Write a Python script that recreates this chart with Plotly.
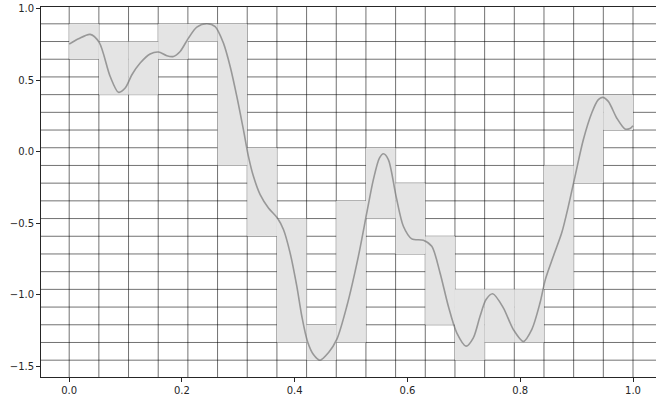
import numpy as np
import plotly.graph_objects as go

# Smooth signal sampled along x in [0, 1]
curve_x = [0.000, 0.0165, 0.0372, 0.0532, 0.0727, 0.0874, 0.0993, 0.1112, 0.1259,
           0.1436, 0.1583, 0.1732, 0.1849, 0.1968, 0.2115, 0.2264, 0.2441, 0.2589,
           0.2736, 0.2855, 0.2973, 0.3090, 0.3179, 0.3268, 0.3387, 0.3534, 0.3693,
           0.3800, 0.3918, 0.4037, 0.4126, 0.4225, 0.4332, 0.4450, 0.4598, 0.4746,
           0.4924, 0.5129, 0.5278, 0.5395, 0.5502, 0.5573, 0.5661, 0.5798, 0.5927,
           0.6076, 0.6282, 0.6431, 0.6578, 0.6725, 0.6874, 0.7039, 0.7168, 0.7287,
           0.7394, 0.7512, 0.7700, 0.7878, 0.8055, 0.8204, 0.8351, 0.8445, 0.8587,
           0.8736, 0.8853, 0.8972, 0.9119, 0.9268, 0.9385, 0.9463, 0.9562, 0.9711,
           0.9858, 0.9947, 1.000]
curve_y = [0.753, 0.790, 0.821, 0.765, 0.527, 0.416, 0.446, 0.539, 0.621,
           0.684, 0.698, 0.672, 0.667, 0.702, 0.795, 0.872, 0.895, 0.876,
           0.760, 0.597, 0.388, 0.155, -0.031, -0.171, -0.299, -0.392, -0.462,
           -0.543, -0.706, -0.939, -1.149, -1.323, -1.416, -1.456, -1.404, -1.311,
           -1.079, -0.730, -0.427, -0.194, -0.043, -0.013, -0.054, -0.311, -0.520,
           -0.608, -0.618, -0.660, -0.846, -1.079, -1.265, -1.358, -1.300, -1.149,
           -1.032, -0.992, -1.090, -1.242, -1.325, -1.242, -1.055, -0.893, -0.730,
           -0.566, -0.381, -0.171, 0.085, 0.272, 0.365, 0.381, 0.353, 0.237,
           0.160, 0.164, 0.183]

# Cells hit by the signal in each column: grid-row span [lo, hi]
band_lo = [17, 15, 15, 17, 18, 11, 7, 1, 0, 1, 8, 6, 2, 0, 1, 1, 4, 10, 13]
band_hi = [19, 18, 18, 19, 19, 19, 12, 8, 2, 9, 12, 10, 7, 4, 4, 4, 11, 15, 15]

x_ticks = [0.0, 0.2, 0.4, 0.6, 0.8, 1.0]
x_labels = ["0.0", "0.2", "0.4", "0.6", "0.8", "1.0"]
y_ticks = [-1.5, -1.0, -0.5, 0.0, 0.5, 1.0]
y_labels = ["\u22121.5", "\u22121.0", "\u22120.5", "0.0", "0.5", "1.0"]

n_lines = 20
y_min, y_max = min(curve_y), max(curve_y)
grid_x = np.linspace(min(curve_x), max(curve_x), n_lines)
grid_y = np.linspace(y_min, y_max, n_lines)

shapes = []
# shaded cells
for i, (lo, hi) in enumerate(zip(band_lo, band_hi)):
    shapes.append(dict(type="rect", xref="x", yref="y", layer="below",
                       x0=grid_x[i], x1=grid_x[i + 1], y0=grid_y[lo], y1=grid_y[hi],
                       fillcolor="#e4e4e4", line=dict(width=0)))
# grid lines spanning the whole axes
grid_line = dict(color="rgba(0,0,0,0.7)", width=0.8)
for gx in grid_x:
    shapes.append(dict(type="line", xref="x", yref="paper", layer="below",
                       x0=gx, x1=gx, y0=0, y1=1, line=grid_line))
for gy in grid_y:
    shapes.append(dict(type="line", xref="paper", yref="y", layer="below",
                       x0=0, x1=1, y0=gy, y1=gy, line=grid_line))

fig = go.Figure()
fig.add_trace(go.Scatter(x=curve_x, y=curve_y, mode="lines",
                         line=dict(color="rgba(90,90,90,0.55)", width=1.6,
                                   shape="spline", smoothing=0.8),
                         hoverinfo="skip", showlegend=False))

pad_x = 0.05 * (max(curve_x) - min(curve_x))
pad_y = 0.05 * (y_max - y_min)

fig.update_layout(
    width=656, height=399,
    margin=dict(l=41, r=0, t=7, b=22),
    paper_bgcolor="white", plot_bgcolor="white",
    font=dict(family="DejaVu Sans", size=10, color="#262626"),
    shapes=shapes,
    showlegend=False,
)
fig.update_xaxes(range=[-pad_x, 1.0408], tickvals=x_ticks, ticktext=x_labels,
                 showgrid=False, zeroline=False, showline=True, mirror=True,
                 linecolor="#262626", linewidth=0.8,
                 ticks="outside", ticklen=4, tickwidth=0.8, tickcolor="#262626")
fig.update_yaxes(range=[y_min - pad_y, y_max + pad_y], tickvals=y_ticks, ticktext=y_labels,
                 showgrid=False, zeroline=False, showline=True, mirror=False,
                 linecolor="#262626", linewidth=0.8,
                 ticks="outside", ticklen=4, tickwidth=0.8, tickcolor="#262626")

fig.write_html("out.html")
